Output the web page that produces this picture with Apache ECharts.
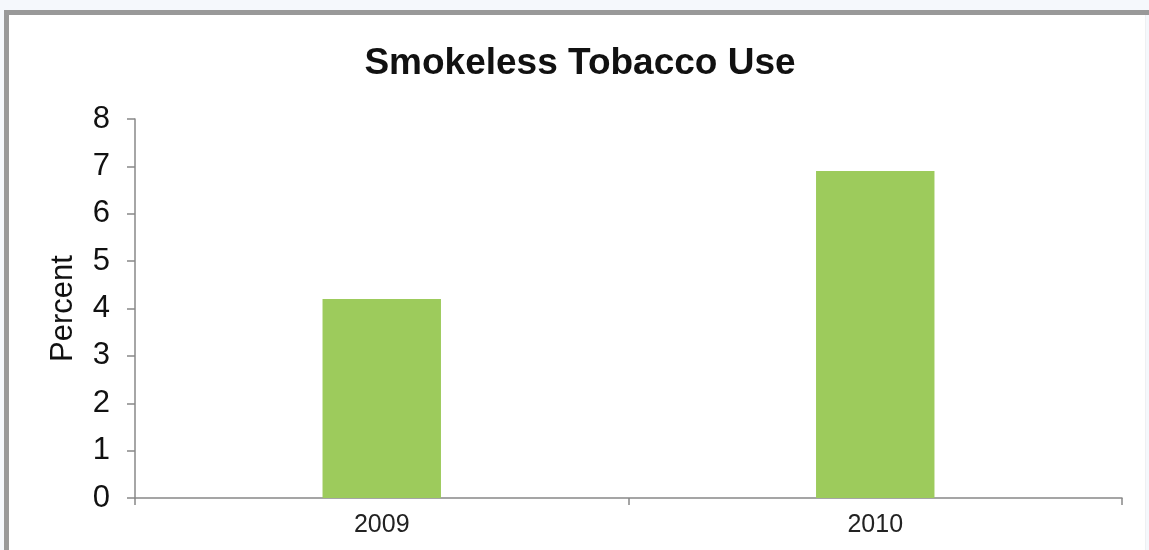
<!DOCTYPE html>
<html>
<head>
<meta charset="utf-8">
<script src="https://cdn.jsdelivr.net/npm/echarts@6/dist/echarts.min.js"></script>
<style>
html,body{margin:0;padding:0;background:#f5f8fc;}
#c{width:1149px;height:550px;}
</style>
</head>
<body>
<div id="c"></div>
<script>
const title = 'Smokeless Tobacco Use';
const categories = ['2009', '2010'];
const values = [4.2, 6.9];
const yAxisName = 'Percent';

const chart = echarts.init(document.getElementById('c'));
chart.setOption({
  animation: false,
  backgroundColor: 'transparent',
  graphic: [
    {type: 'rect', z: -10, silent: true,
     shape: {x: 4, y: 10, width: 1142, height: 600},
     style: {fill: '#ffffff'}},
    {type: 'rect', z: -9, silent: true,
     shape: {x: 4, y: 10, width: 1145, height: 5},
     style: {fill: '#999999'}},
    {type: 'rect', z: -9, silent: true,
     shape: {x: 4, y: 10, width: 5, height: 600},
     style: {fill: '#999999'}},
    {type: 'rect', z: -9, silent: true,
     shape: {x: 1145, y: 15, width: 1, height: 600},
     style: {fill: '#eef0f2'}}
  ],
  title: {
    text: title, left: 575, top: 40, textAlign: 'center',
    textStyle: {fontFamily: 'Liberation Sans, Arial', fontSize: 37, fontWeight: 'bold', color: '#111'}
  },
  grid: {left: 135, right: 27, top: 119, bottom: 52, containLabel: false},
  xAxis: {
    type: 'category', data: categories,
    axisLine: {lineStyle: {color: '#888', width: 1.5}},
    axisTick: {show: true, length: 7, lineStyle: {color: '#888', width: 1.5}},
    axisLabel: {fontFamily: 'Liberation Sans, Arial', fontSize: 25, color: '#222', margin: 15}
  },
  yAxis: {
    type: 'value', min: 0, max: 8, interval: 1,
    name: yAxisName, nameLocation: 'middle', nameGap: 56, nameRotate: 90,
    nameTextStyle: {fontFamily: 'Liberation Sans, Arial', fontSize: 31, color: '#111'},
    axisLine: {show: true, lineStyle: {color: '#888', width: 1.5}},
    axisTick: {show: true, length: 8, lineStyle: {color: '#888', width: 1.5}},
    splitLine: {show: false},
    axisLabel: {fontFamily: 'Liberation Sans, Arial', fontSize: 31, color: '#111', margin: 25}
  },
  series: [{
    type: 'bar', data: values, barWidth: '24%',
    itemStyle: {color: '#9dcb5c'}
  }]
});
</script>
</body>
</html>
